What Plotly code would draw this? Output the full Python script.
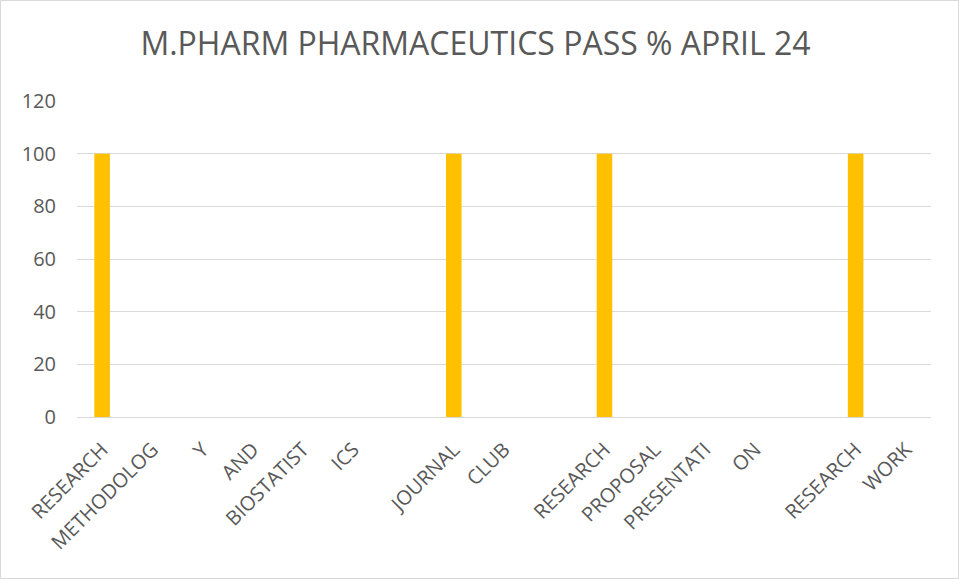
import plotly.graph_objects as go

title_text = "M.PHARM PHARMACEUTICS PASS % APRIL 24"
labels = ["RESEARCH", "METHODOLOG", "Y", "AND", "BIOSTATIST", "ICS", "",
          "JOURNAL", "CLUB", "", "RESEARCH", "PROPOSAL", "PRESENTATI", "ON", "",
          "RESEARCH", "WORK"]
pass_pct = [100, None, None, None, None, None, None,
            100, None, None, 100, None, None, None, None,
            100, None]
y_ticks = [0, 20, 40, 60, 80, 100, 120]

W, H = 959, 579
ML, MR, MT, MB = 77, 28, 101, 162
PW, PH = W - ML - MR, H - MT - MB

x_idx = list(range(len(labels)))

fig = go.Figure()
fig.add_trace(go.Bar(x=x_idx, y=pass_pct, marker_color="#FFC000",
                     marker_line_width=0, width=0.31))

font_family = "Open Sans, Noto Sans, sans-serif"
fig.update_layout(
    width=W, height=H,
    margin=dict(l=ML, r=MR, t=MT, b=MB),
    paper_bgcolor="white", plot_bgcolor="white",
    showlegend=False,
    title=dict(text=title_text, x=(475.5) / W, xanchor="center",
               y=1 - 44 / H, yanchor="middle",
               font=dict(family=font_family, size=32, color="#595959")),
    xaxis=dict(range=[-0.5, len(labels) - 0.5], tickmode="array",
               tickvals=x_idx, ticktext=labels, tickangle=-45,
               showgrid=False, zeroline=False,
               showline=True, linecolor="#D9D9D9", linewidth=1,
               ticks="outside", ticklen=12, tickcolor="rgba(0,0,0,0)",
               tickfont=dict(family=font_family, size=20, color="#595959")),
    yaxis=dict(range=[0, 120], tickmode="array", tickvals=y_ticks,
               showgrid=True, gridcolor="#D9D9D9", gridwidth=1,
               zeroline=False, showline=False,
               ticks="outside", ticklen=16, tickcolor="rgba(0,0,0,0)",
               tickfont=dict(family=font_family, size=20, color="#595959")),
    shapes=[dict(type="rect", xref="paper", yref="paper",
                 x0=(0.5 - ML) / PW, x1=(W - 0.5 - ML) / PW,
                 y0=-(H - 0.5 - (MT + PH)) / PH, y1=(MT + PH - 0.5) / PH,
                 line=dict(color="#D9D9D9", width=1), fillcolor="rgba(0,0,0,0)",
                 layer="below")],
)

fig.write_html("out.html", config={"displayModeBar": False},
               post_script="document.body.style.margin='0';document.body.style.overflow='hidden';")
